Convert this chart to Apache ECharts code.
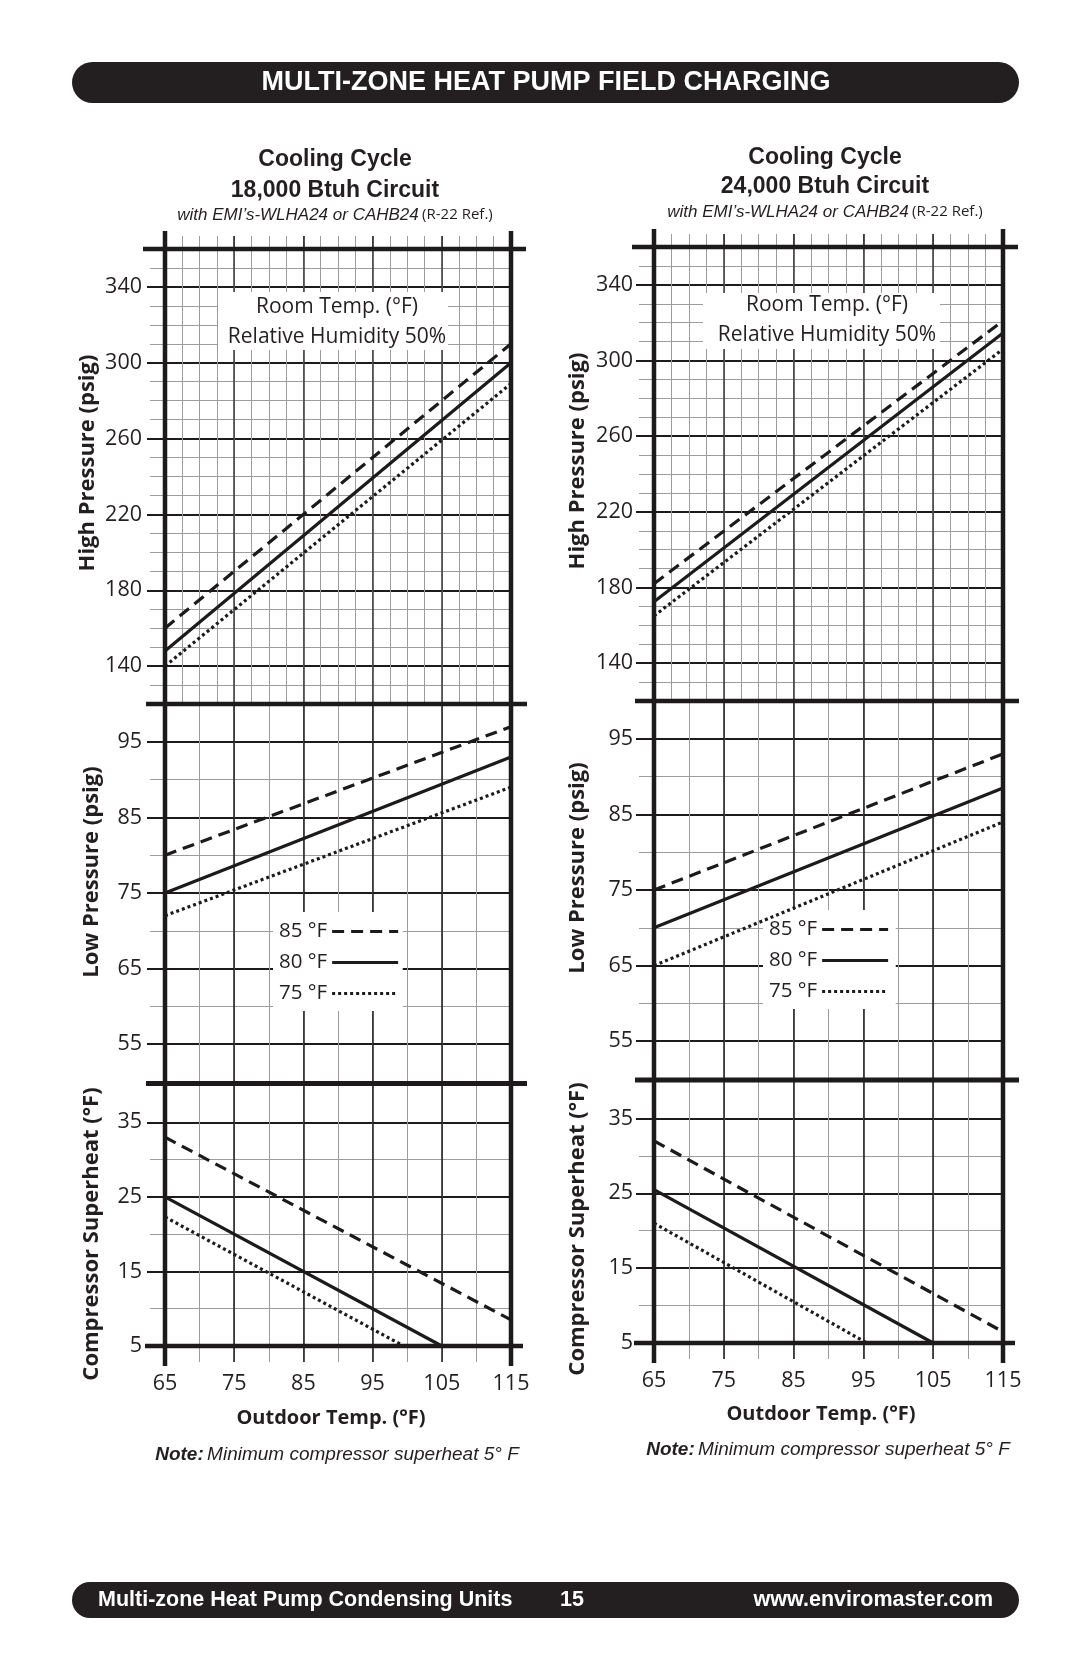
<!DOCTYPE html>
<html>
<head>
<meta charset="utf-8">
<script src="https://cdn.jsdelivr.net/npm/echarts@6/dist/echarts.min.js"></script>
<style>html,body{margin:0;padding:0;background:#fff}#c{width:1080px;height:1669px}</style>
</head>
<body>
<div id="c"></div>
<script>
// ---------- DATA ----------
const xTickLabels = [65, 75, 85, 95, 105, 115];
const highTickLabels = [140, 180, 220, 260, 300, 340];
const lowTickLabels = [55, 65, 75, 85, 95];
const shTickLabels = [5, 15, 25, 35];
const seriesNames = ['85 °F', '80 °F', '75 °F'];

// 18,000 Btuh circuit  [outdoor temp, value]
const a_high85 = [[65, 160], [115, 310]];
const a_high80 = [[65, 148], [115, 300]];
const a_high75 = [[65, 140], [115, 289]];
const a_low85 = [[65, 80], [115, 97]];
const a_low80 = [[65, 75], [115, 93]];
const a_low75 = [[65, 72], [115, 89]];
const a_sh85 = [[65, 33], [115, 8.5]];
const a_sh80 = [[65, 25], [105, 5]];
const a_sh75 = [[65, 22.3], [99.5, 5]];

// 24,000 Btuh circuit
const b_high85 = [[65, 182], [115, 321]];
const b_high80 = [[65, 172.5], [115, 314.5]];
const b_high75 = [[65, 165], [115, 306]];
const b_low85 = [[65, 75], [115, 93]];
const b_low80 = [[65, 70], [115, 88.5]];
const b_low75 = [[65, 65], [115, 84]];
const b_sh85 = [[65, 32], [115, 6.5]];
const b_sh80 = [[65, 25.5], [105, 5]];
const b_sh75 = [[65, 21], [95.5, 5]];

// ---------- STYLE ----------
const INK = '#231f20';
const BLACK = '#1c1a1b';
const GRAY = '#9c9c9c';
const F_UI = "'Open Sans','Noto Sans','DejaVu Sans',sans-serif";
const F_HEAD = "'Liberation Sans',Arial,Helvetica,sans-serif";
const LINE_TYPES = { '85 °F': [12, 7], '80 °F': 'solid', '75 °F': [3, 3] };

const layouts = [
  { x: 165, w: 346, high: [249, 455], low: [704, 378], sh: [1085, 261], labelMargin: 23,
    data: { high: [a_high85, a_high80, a_high75], low: [a_low85, a_low80, a_low75], sh: [a_sh85, a_sh80, a_sh75] } },
  { x: 654, w: 349, high: [247, 454], low: [701, 378], sh: [1081, 262], labelMargin: 21,
    data: { high: [b_high85, b_high80, b_high75], low: [b_low85, b_low80, b_low75], sh: [b_sh85, b_sh80, b_sh75] } }
];

const PANELS = [
  { key: 'high', min: 120, max: 360, minorY: 10, majorY: 20, ticks: highTickLabels, minorX: 2.5, xPos: 'top', vMajor: '#3a3a3a' },
  { key: 'low', min: 50, max: 100, minorY: 10, majorY: 5, ticks: lowTickLabels, minorX: 5, xPos: null, vMajor: BLACK },
  { key: 'sh', min: 5, max: 40, minorY: 5, majorY: 10, ticks: shTickLabels, minorX: 5, xPos: 'bottom', vMajor: BLACK }
];

const grid = [], xAxis = [], yAxis = [], series = [];

layouts.forEach(L => {
  PANELS.forEach(P => {
    const [top, height] = L[P.key];
    grid.push({ left: L.x, top: top, width: L.w, height: height });
    const gi = grid.length - 1;
    const tickLen = P.xPos === 'top' ? 13 : 16;
    xAxis.push({
      gridIndex: gi, type: 'value', min: 65, max: 115, interval: P.minorX, position: P.xPos || 'bottom', offset: 0,
      axisLine: { show: false }, axisLabel: { show: false },
      axisTick: { show: !!P.xPos, length: tickLen, lineStyle: { color: GRAY, width: 1 } },
      splitLine: { show: true, lineStyle: { color: GRAY, width: 1 } }
    });
    xAxis.push({
      gridIndex: gi, type: 'value', min: 65, max: 115, interval: 10, position: P.xPos || 'bottom', offset: 0,
      axisLine: { show: false },
      axisLabel: { show: P.xPos === 'bottom', margin: 27, fontSize: 21.5, fontFamily: F_UI, color: INK,
        formatter: v => xTickLabels.includes(v) ? String(v) : '' },
      axisTick: { show: !!P.xPos, length: tickLen, lineStyle: { color: BLACK, width: 1.5 } },
      splitLine: { show: true, lineStyle: { color: P.vMajor, width: 1.5 } }
    });
    yAxis.push({
      gridIndex: gi, type: 'value', min: P.min, max: P.max, interval: P.minorY, position: 'left', offset: 0,
      axisLine: { show: false }, axisLabel: { show: false },
      axisTick: { show: true, length: 15, lineStyle: { color: GRAY, width: 1 } },
      splitLine: { show: true, lineStyle: { color: GRAY, width: 1 } }
    });
    yAxis.push({
      gridIndex: gi, type: 'value', min: P.min, max: P.max, interval: P.majorY, position: 'left', offset: 0,
      axisLine: { show: false },
      axisLabel: { margin: L.labelMargin, fontSize: 21.5, fontFamily: F_UI, color: INK,
        formatter: v => P.ticks.includes(v) ? String(v) : '' },
      axisTick: { show: true, length: 18, customValues: P.ticks, lineStyle: { color: BLACK, width: 2 } },
      splitLine: { show: true, lineStyle: { color: BLACK, width: 2 } }
    });
    const xi = xAxis.length - 1, yi = yAxis.length - 1;
    L.data[P.key].forEach((d, k) => {
      const name = seriesNames[k];
      series.push({
        type: 'line', name: name, xAxisIndex: xi, yAxisIndex: yi, data: d,
        symbol: 'none', z: 5, silent: true, animation: false,
        lineStyle: { color: BLACK, width: 3.2, type: LINE_TYPES[name], cap: 'butt' }
      });
    });
  });
});

const legendBase = {
  orient: 'vertical', align: 'right', data: seriesNames, itemWidth: 66, itemHeight: 14, itemGap: 10,
  backgroundColor: '#fff', selectedMode: false, z: 2,
  itemStyle: { opacity: 0 },
  lineStyle: { width: 3.2, color: BLACK },
  textStyle: { fontFamily: F_UI, fontSize: 20.5, color: INK, lineHeight: 20 }
};
const legend = [
  Object.assign({}, legendBase, { left: 273, top: 912, padding: [9, 3, 7, 6] }),
  Object.assign({}, legendBase, { left: 763, top: 910, padding: [9, 6, 7, 6] })
];

// ---------- GRAPHIC (frame, titles, notes) ----------
function T(x, y, text, size, opt) {
  opt = opt || {};
  return {
    type: 'text', x: x, y: y, z: 20, rotation: opt.rot || 0,
    style: Object.assign({ text: text, fill: opt.fill || INK, fontSize: size, fontFamily: opt.font || F_UI,
      fontWeight: opt.weight || 'normal', fontStyle: opt.style || 'normal',
      align: opt.align || 'center', verticalAlign: 'middle' }, opt.extra || {})
  };
}
function Ln(x1, y1, x2, y2, w) {
  return { type: 'line', z: 30, shape: { x1, y1, x2, y2 }, style: { stroke: BLACK, lineWidth: w || 4.5 } };
}

const g = [];
// header / footer bars
g.push({ type: 'rect', z: 10, shape: { x: 72, y: 62, width: 947, height: 41, r: 20.5 }, style: { fill: INK } });
g.push(T(546, 83, 'MULTI-ZONE HEAT PUMP FIELD CHARGING', 27, { fill: '#fff', font: F_HEAD, weight: 'bold' }));
g.push({ type: 'rect', z: 10, shape: { x: 72, y: 1582, width: 947, height: 36, r: 18 }, style: { fill: INK } });
g.push(T(98, 1600, 'Multi-zone Heat Pump Condensing Units', 21.5, { fill: '#fff', font: F_HEAD, weight: 'bold', align: 'left' }));
g.push(T(572, 1600, '15', 21.5, { fill: '#fff', font: F_HEAD, weight: 'bold' }));
g.push(T(993, 1600, 'www.enviromaster.com', 21.5, { fill: '#fff', font: F_HEAD, weight: 'bold', align: 'right' }));

const texts = [
  { cx: 335, t1: 160, t2: 190.5, t3: 215, circuit: '18,000 Btuh Circuit', nameX: [88, 91.5, 91.5], nameY: [463, 872, 1234],
    box: [218, 292, 230, 58], boxText: [337, 307, 337], outY: 1418, outX: 331, noteX: 337, noteY: 1455 },
  { cx: 825, t1: 157.5, t2: 187, t3: 212, circuit: '24,000 Btuh Circuit', nameX: [578, 578, 578], nameY: [461, 868, 1229],
    box: [703, 293, 237, 56], boxText: [827, 305, 335], outY: 1414, outX: 821, noteX: 828, noteY: 1450 }
];
texts.forEach(t => {
  g.push(T(t.cx, t.t1, 'Cooling Cycle', 23, { font: F_HEAD, weight: 'bold' }));
  g.push(T(t.cx, t.t2, t.circuit, 23, { font: F_HEAD, weight: 'bold' }));
  g.push({
    type: 'text', x: t.cx, y: t.t3, z: 20,
    style: { text: '{i|with EMI’s-WLHA24 or CAHB24} {n|(R-22 Ref.)}', align: 'center', verticalAlign: 'middle',
      rich: { i: { fontFamily: F_HEAD, fontStyle: 'italic', fontSize: 17, fill: INK, color: INK },
              n: { fontFamily: F_UI, fontSize: 15, fill: INK, color: INK } } }
  });
  const names = ['High Pressure (psig)', 'Low Pressure (psig)', 'Compressor Superheat (°F)'];
  names.forEach((n, i) => g.push(T(t.nameX[i], t.nameY[i], n, 22, { weight: 'bold', rot: Math.PI / 2 })));
  g.push({ type: 'rect', z: 2, shape: { x: t.box[0], y: t.box[1], width: t.box[2], height: t.box[3] }, style: { fill: '#fff' } });
  g.push(T(t.boxText[0], t.boxText[1], 'Room Temp. (°F)', 21));
  g.push(T(t.boxText[0], t.boxText[2], 'Relative Humidity 50%', 21));
  g.push(T(t.outX, t.outY, 'Outdoor Temp. (°F)', 20, { weight: 'bold' }));
  g.push({
    type: 'text', x: t.noteX, y: t.noteY, z: 20,
    style: { text: '{b|Note:} {i|Minimum compressor superheat 5° F}', align: 'center', verticalAlign: 'middle',
      rich: { b: { fontFamily: F_HEAD, fontStyle: 'italic', fontWeight: 'bold', fontSize: 19, fill: INK, color: INK },
              i: { fontFamily: F_HEAD, fontStyle: 'italic', fontSize: 19, fill: INK, color: INK } } }
  });
});

// frame lines (derived from grid layout)
layouts.forEach(L => {
  const left = L.x, right = L.x + L.w;
  const top = L.high[0], hb = L.high[0] + L.high[1], lb = L.low[0] + L.low[1], st = L.sh[0], bottom = L.sh[0] + L.sh[1];
  g.push(Ln(left, top - 18, left, bottom + 20));
  g.push(Ln(right, top - 18, right, bottom + 20));
  g.push(Ln(left - 22, top, right + 15, top));
  g.push(Ln(left - 19, hb, right + 16, hb));
  g.push(Ln(left - 19, (lb + st) / 2, right + 16, (lb + st) / 2, 5));
  g.push(Ln(left - 20, bottom, right + 12, bottom));
});

const chart = echarts.init(document.getElementById('c'), null, { renderer: 'canvas', width: 1080, height: 1669 });
chart.setOption({
  backgroundColor: '#fff',
  animation: false,
  grid: grid, xAxis: xAxis, yAxis: yAxis, series: series, legend: legend,
  graphic: { elements: g }
});
</script>
</body>
</html>
